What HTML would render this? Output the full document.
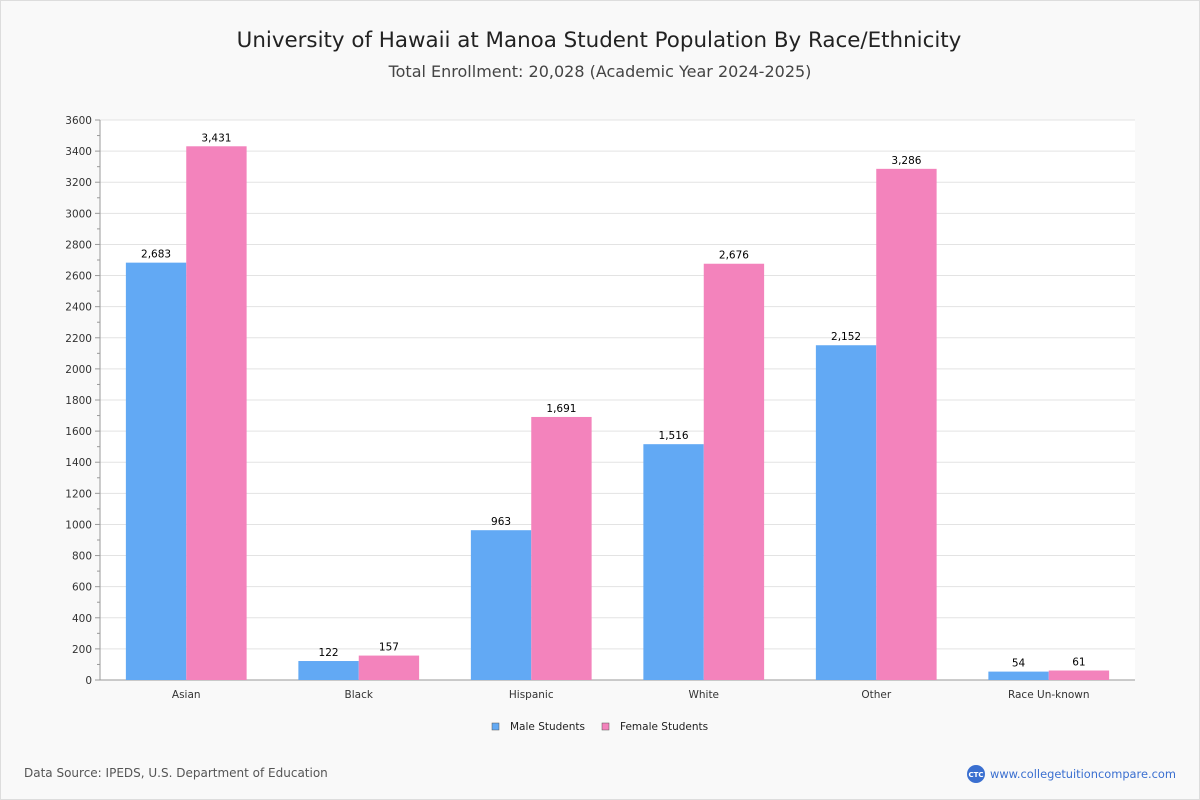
<!DOCTYPE html>
<html><head><meta charset="utf-8">
<style>
body{margin:0;background:#fff;font-family:"DejaVu Sans","Liberation Sans",sans-serif;}
#wrap{width:1198px;height:798px;border:1px solid #ddd;background:#f9f9f9;position:relative;overflow:hidden}
</style></head><body>
<div id="wrap">
<svg id="chart" width="1198" height="798"></svg>
</div>
<script>
const categories=["Asian","Black","Hispanic","White","Other","Race Un-known"];
const maleValues=[2683,122,963,1516,2152,54];
const femaleValues=[3431,157,1691,2676,3286,61];
const yTicks=[0,200,400,600,800,1000,1200,1400,1600,1800,2000,2200,2400,2600,2800,3000,3200,3400,3600];
const seriesNames=["Male Students","Female Students"];

const NS="http://www.w3.org/2000/svg";
const svg=document.getElementById('chart');
function mk(t,a,txt){const e=document.createElementNS(NS,t);for(const k in a)e.setAttribute(k,a[k]);if(txt!==undefined)e.textContent=txt;svg.appendChild(e);return e;}
const X0=99,X1=1134,Y0=679,Y1=119,YMAX=3600;
const y=v=>Y0-(v/YMAX)*(Y0-Y1);
const band=(X1-X0)/categories.length;
const bx=i=>X0+band*i+band/2;
const bw=band*0.35;
const fmt=v=>v.toLocaleString('en-US');

let e;
e=mk('text',{x:598,y:46,'text-anchor':'middle','font-size':21.4,fill:'#222'},'University of Hawaii at Manoa Student Population By Race/Ethnicity');

e=mk('text',{x:599,y:76,'text-anchor':'middle','font-size':16,fill:'#444'},'Total Enrollment: 20,028 (Academic Year 2024-2025)');

e=mk('rect',{x:X0,y:Y1,width:X1-X0,height:Y0-Y1,fill:'#fff'});

yTicks.forEach(t=>{
 e=mk('line',{x1:X0,x2:X1,y1:y(t),y2:y(t),stroke:'#e3e3e3'});
 
 e=mk('text',{x:X0-8,y:y(t)+4,'text-anchor':'end','font-size':10.5,fill:'#333'},String(t));
 
});
for(let v=0;v<=YMAX;v+=100){
 e=mk('line',{x1:X0-(v%200?3:5),x2:X0,y1:y(v),y2:y(v),stroke:'#999'});
 
}
e=mk('line',{x1:X0,x2:X0,y1:Y1,y2:Y0,stroke:'#999'});

e=mk('line',{x1:X0,x2:X1,y1:Y0,y2:Y0,stroke:'#999'});

categories.forEach((c,i)=>{
 const cx=bx(i);
 e=mk('rect',{x:cx-bw,y:y(maleValues[i]),width:bw,height:Y0-y(maleValues[i]),fill:'#62a9f4'});
 
 e=mk('rect',{x:cx,y:y(femaleValues[i]),width:bw,height:Y0-y(femaleValues[i]),fill:'#f383bc'});
 
 e=mk('text',{x:cx-bw/2,y:y(maleValues[i])-5,'text-anchor':'middle','font-size':10.5,fill:'#000'},fmt(maleValues[i]));
 
 e=mk('text',{x:cx+bw/2,y:y(femaleValues[i])-5,'text-anchor':'middle','font-size':10.5,fill:'#000'},fmt(femaleValues[i]));
 
 e=mk('text',{x:cx,y:Y0+18,'text-anchor':'middle','font-size':10.5,fill:'#333'},c);
 
});
const lx=[491,601],cols=['#62a9f4','#f383bc'];
seriesNames.forEach((n,i)=>{
 e=mk('rect',{x:lx[i],y:722,width:7,height:7,fill:cols[i],stroke:'#555','stroke-width':0.5});
 
 e=mk('text',{x:lx[i]+18,y:729,'font-size':10.5,fill:'#222'},n);
 
});
e=mk('text',{x:23,y:776,'font-size':12,fill:'#555'},'Data Source: IPEDS, U.S. Department of Education');

e=mk('circle',{cx:975,cy:773,r:9,fill:'#3a6fd0'});

e=mk('text',{x:975,y:776,'text-anchor':'middle','font-size':7,fill:'#fff','font-weight':'bold'},'CTC');

e=mk('text',{x:989,y:777,'font-size':11.4,fill:'#3a6fd0'},'www.collegetuitioncompare.com');

</script>
</body></html>
